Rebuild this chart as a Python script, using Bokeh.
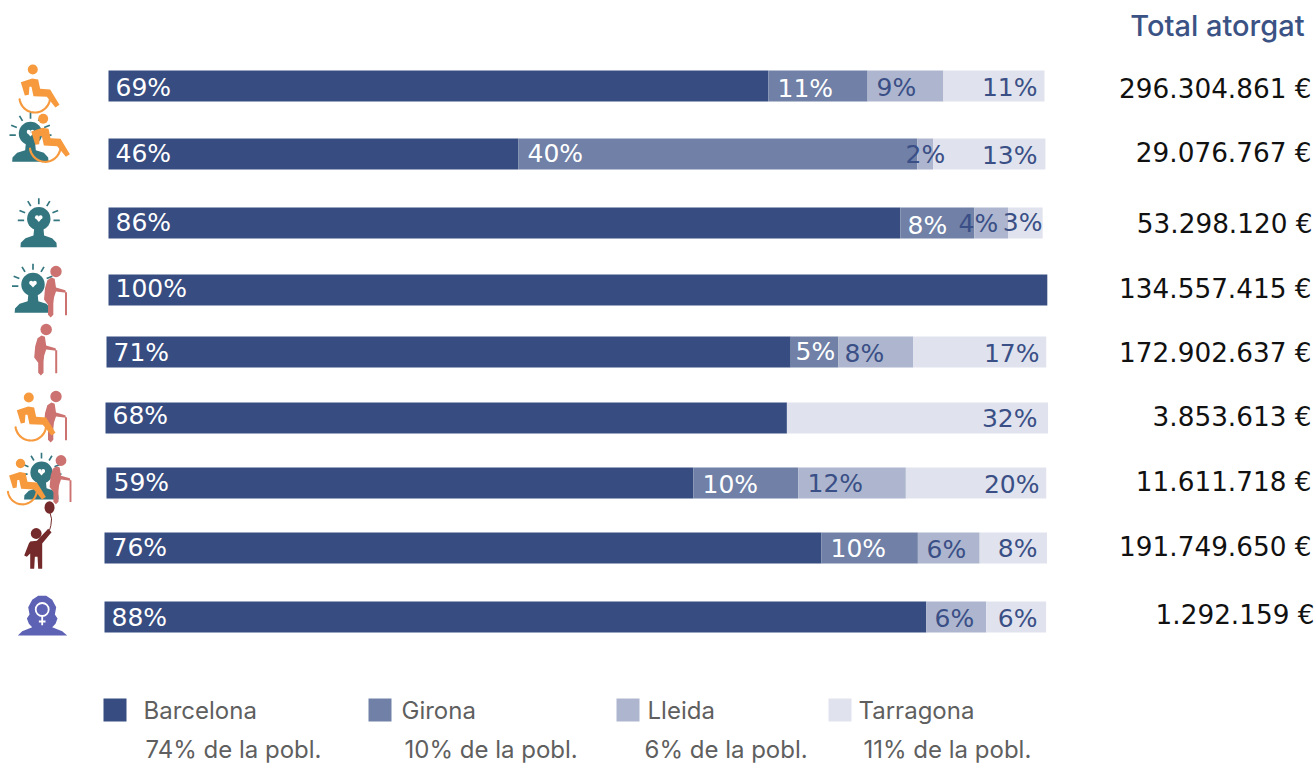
import numpy as np
from bokeh.plotting import figure
from bokeh.models import Range1d
from bokeh.core.properties import value
from bokeh.embed import file_html
from bokeh.resources import INLINE

# ---- data ------------------------------------------------------------------
barcelona = [70.5, 43.8, 84.6, 100.3, 73.1, 72.8, 62.7, 76.6, 87.8]
girona    = [10.6, 42.6,  7.9,   0.0,  5.1,  0.0, 11.2, 10.3,  0.0]
lleida    = [ 8.1,  1.7,  3.6,   0.0,  8.0,  0.0, 11.5,  6.6,  6.4]
tarragona = [10.8, 12.0,  3.7,   0.0, 14.2, 27.9, 15.0,  7.2,  6.4]
labels_b = ["69%", "46%", "86%", "100%", "71%", "68%", "59%", "76%", "88%"]
labels_g = ["11%", "40%", "8%", "", "5%", "", "10%", "10%", ""]
labels_l = ["9%", "2%", "4%", "", "8%", "", "12%", "6%", "6%"]
labels_t = ["11%", "13%", "3%", "", "17%", "32%", "20%", "8%", "6%"]
totals = ["296.304.861 €", "29.076.767 €", "53.298.120 €", "134.557.415 €", "172.902.637 €",
          "3.853.613 €", "11.611.718 €", "191.749.650 €", "1.292.159 €"]
legend_names = ["Barcelona", "Girona", "Lleida", "Tarragona"]
legend_pobl = ["74% de la pobl.", "10% de la pobl.", "6% de la pobl.", "11% de la pobl."]
header = "Total atorgat"

# ---- layout (pixels of the page) --------------------------------------------
FONT = "Inter"
NUM = "DejaVu Sans"
C_B, C_G, C_L, C_T = "#374C80", "#7080A6", "#ADB6CE", "#E0E3ED"
TXT = "#3A4F86"
row_y = [85.5, 153.5, 222.5, 289.5, 351.5, 417.5, 482.5, 547.5, 616.5]
row_x0 = [108, 108, 108, 108, 106, 105, 106, 104, 104]
UNIT = 9.36
lab_b_y = [87, 153, 222, 288, 352, 415, 482, 547, 617]
lab_g_y = [88, 153, 225, 0, 351, 0, 484, 548, 0]
lab_l_y = [87, 154, 223, 0, 353, 0, 483, 549, 618]
lab_t_y = [87, 155, 222, 0, 353, 418, 484, 548, 618]
lab_g_x = [777, 527, 907, 0, 795, 0, 702, 830, 0]
lab_l_x = [876, 905, 958, 0, 844, 0, 807, 926, 934]
lab_t_r = [1037, 1037, 1042, 0, 1039, 1037, 1039, 1037, 1037]
tot_r = [1311, 1311, 1312, 1311, 1311, 1311, 1311, 1311, 1314]
tot_y = [88, 152, 223, 288, 352, 416, 481, 546, 614]
leg_sq_x = [103, 368, 616, 828]
leg_nm_x = [143, 401, 647, 858]
leg_pb_x = [145, 404, 644, 863]

p = figure(width=1316, height=764, output_backend="svg", toolbar_location=None,
           x_range=Range1d((0 - 108) / UNIT, (1316 - 108) / UNIT),
           y_range=Range1d(764, 0), min_border=0, outline_line_color=None)
p.axis.visible = False
p.grid.visible = False
p.extra_x_ranges = {"px": Range1d(0, 1316)}

# ---- bars --------------------------------------------------------------------
offset = (np.array(row_x0) - 108) / UNIT
left = offset.copy()
for vals, col in zip([barcelona, girona, lleida, tarragona], [C_B, C_G, C_L, C_T]):
    v = np.array(vals)
    p.hbar(y=row_y, left=left, right=left + v, height=31, fill_color=col, line_color=None)
    left = left + v

# ---- text --------------------------------------------------------------------
def txt(x, y, s, color, size="25px", align="left", font=NUM):
    p.text(x=[x], y=[y], text=[s], text_color=color, text_font=value(font), text_font_size=size,
           text_align=align, text_baseline="middle", x_range_name="px")

for i in range(9):
    txt(row_x0[i] + 7, lab_b_y[i], labels_b[i], "white")
    if labels_g[i]:
        txt(lab_g_x[i], lab_g_y[i], labels_g[i], "white")
    if labels_l[i]:
        txt(lab_l_x[i], lab_l_y[i], labels_l[i], TXT)
    if labels_t[i]:
        txt(lab_t_r[i], lab_t_y[i], labels_t[i], TXT, align="right")
    txt(tot_r[i], tot_y[i], totals[i], "#111111", size="26.3px", align="right")
txt(1304, 25, header, "#3B5284", size="29px", align="right", font="Inter Medium")

for i in range(4):
    p.quad(left=[leg_sq_x[i]], right=[leg_sq_x[i] + 23], top=[698], bottom=[721],
           fill_color=[C_B, C_G, C_L, C_T][i], line_color=None, x_range_name="px")
    txt(leg_nm_x[i], 710, legend_names[i], "#5F5F5F", size="24px", font=FONT)
    txt(leg_pb_x[i], 749, legend_pobl[i], "#5F5F5F", size="24px", font=FONT)

# ---- icons ------------------------------------------------------------------
def line(xs, ys, color, w, cap="round"):
    p.line(xs, ys, line_color=color, line_width=w, line_cap=cap, line_join="round", x_range_name="px")
def disc(x, y, r, color):
    p.circle([x], [y], radius=r, fill_color=color, line_color=None, x_range_name="px")
def poly(xs, ys, color):
    p.patch(xs, ys, fill_color=color, line_color=None, x_range_name="px")

def wheelchair(hx, hy, s=1.0, c="#F79A3E"):
    f = lambda pts: ([hx + a * s / 3 for a, _ in pts], [hy + b * s / 3 for _, b in pts])
    disc(hx, hy, 5 * s, c)
    poly(*f([(-36, 38), (-2, 27), (16, 30), (22, 58), (52, 60), (80, 106), (68, 114),
             (42, 82), (2, 80), (-4, 52), (-10, 52), (-12, 76), (-24, 78)]), c)
    t = np.radians(np.linspace(10, 172, 30))
    line([hx + (6 + 46 * np.cos(a)) * s / 3 for a in t],
         [hy + (83 + 46 * np.sin(a)) * s / 3 for a in t], c, 2.2 * s)

def heart(x, y, s, c="white"):
    disc(x - 2 * s, y - 1.3 * s, 2.2 * s, c)
    disc(x + 2 * s, y - 1.3 * s, 2.2 * s, c)
    poly([x - 4.1 * s, x + 4.1 * s, x], [y - 0.6 * s, y - 0.6 * s, y + 4 * s], c)

def person(cx, cy, s=1.0, c="#33767F"):
    f = lambda pts: ([cx + a * s / 3 for a, _ in pts], [cy + b * s / 3 for _, b in pts])
    disc(cx, cy, 11.7 * s, c)
    poly(*f([(-55, 85), (-54, 72), (-40, 58), (-16, 50), (-14, 30), (14, 30), (16, 50),
             (40, 58), (53, 72), (54, 85)]), c)
    for a, b, d, e in [(0, -62, 0, -44), (-33, -53, -24, -38), (33, -53, 24, -38),
                       (-58, -25, -41, -18), (58, -25, 41, -18), (-63, 5, -44, 5), (63, 5, 44, 5)]:
        x, y = f([(a, b), (d, e)])
        line(x, y, c, 1.7 * s, cap="butt")
    heart(cx, cy - 0.5 * s, 0.9 * s)

def elder(hx, hy, s=1.0, c="#CC7371"):
    f = lambda pts: ([hx + a * s / 3 for a, _ in pts], [hy + b * s / 3 for _, b in pts])
    disc(hx, hy, 5.7 * s, c)
    poly(*f([(-14, 18), (-4, 22), (0, 48), (28, 56), (30, 64), (0, 60), (-6, 78), (-8, 96), (-8, 130),
             (-16, 138), (-24, 130), (-24, 100), (-36, 84), (-33, 50), (-26, 26)]), c)
    x, y = f([(30, 62), (30, 131)]); line(x, y, c, 2.0 * s, cap="butt")

def kid(hx, hy, c="#742A2A"):
    f = lambda pts: ([hx + a / 3 for a, _ in pts], [hy + b / 3 for _, b in pts])
    disc(hx, hy, 5.4, c)
    poly(*f([(-18, 24), (2, 22), (36, -14), (46, -4), (18, 30), (18, 106), (6, 106), (4, 70), (-4, 70),
             (-6, 106), (-18, 106), (-18, 60), (-28, 70), (-36, 66), (-22, 30)]), c)
    bx, by = f([(40, -78)])
    p.ellipse(bx, by, width=10, height=12.5, fill_color=c, line_color=None, x_range_name="px")
    x, y = f([(42, -60), (46, -44), (44, -24), (40, -10)]); line(x, y, c, 1.0)

def woman(cx, cy, c="#5E62B5"):
    f = lambda pts: ([cx + a / 3 for a, _ in pts], [cy + b / 3 for _, b in pts])
    poly(*f([(-73, 75), (-60, 62), (-30, 50), (-40, 40), (-46, 24), (-38, 12), (-42, -10), (-30, -32), (-12, -44),
             (12, -44), (30, -32), (42, -10), (38, 12), (46, 24), (40, 40), (30, 50), (60, 62), (75, 75)]), c)
    p.circle([cx], [cy - 1], radius=6.5, fill_alpha=0, line_color="white", line_width=1.8, x_range_name="px")
    x, y = f([(0, 18), (0, 44)]); line(x, y, "white", 1.8, cap="butt")
    x, y = f([(-10, 33), (10, 33)]); line(x, y, "white", 1.8, cap="butt")

wheelchair(32.3, 69)
person(30, 133)
wheelchair(42.7, 118.3)
person(38.3, 218.3)
person(32.5, 284)
elder(55.5, 271)
elder(45.7, 329)
elder(55.5, 396)
wheelchair(28.3, 397)
person(41, 472, 0.95)
elder(60.5, 460, 0.95)
wheelchair(20, 463, 0.95)
kid(35.7, 533)
woman(41.7, 610)

open("out.html", "w").write(file_html(p, INLINE))
